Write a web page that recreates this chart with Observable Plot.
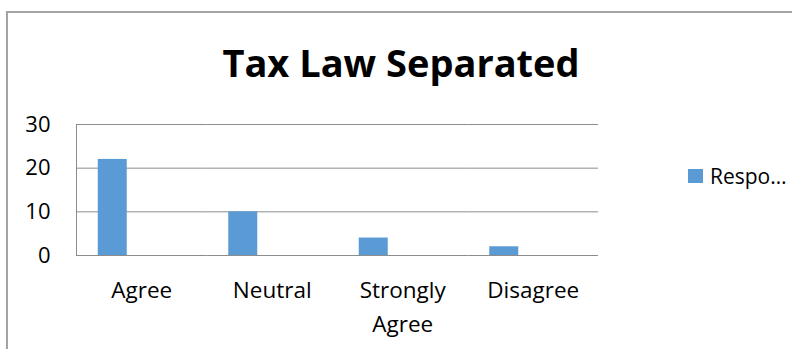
<!DOCTYPE html>
<html>
<head>
<meta charset="utf-8">
<script src="https://cdn.jsdelivr.net/npm/d3@7"></script>
<script src="https://cdn.jsdelivr.net/npm/@observablehq/plot@0.6"></script>
<style>
  html, body { margin: 0; padding: 0; background: #fff; }
  #wrap { position: relative; width: 792px; height: 349px; overflow: hidden; font-family: "Open Sans", sans-serif; }
  #border { position: absolute; left: 6px; top: 11px; width: 800px; height: 400px; border-top: 2px solid #a3a3a3; border-left: 2px solid #a3a3a3; box-sizing: border-box; }
  #chart { position: absolute; left: 0; top: 0; }
  #title { position: absolute; left: 10px; width: 782px; top: 43px; text-align: center; font-size: 38px; line-height: 38px; font-weight: 700; color: #000; }
  #legend { position: absolute; left: 688px; top: 166px; height: 21px; line-height: 21px; font-size: 21px; color: #000; white-space: nowrap; }
  #legend .sw { position: absolute; left: 0; top: 3px; width: 15px; height: 14px; background: #5b9bd5; }
  #legend .lb { position: absolute; left: 22px; top: 0; }
</style>
</head>
<body>
<div id="wrap">
  <div id="border"></div>
  <div id="chart"></div>
  <div id="title"></div>
  <div id="legend"><div class="sw"></div><div class="lb"></div></div>
</div>
<script>
const chartTitle = "Tax Law Separated";
const categories = ["Agree", "Neutral", "Strongly Agree", "Disagree"];
const responses = [22, 10, 4, 2];
const seriesName = "Responses";
const seriesSlots = ["Responses", "Series 2", "Series 3"];
const yTicks = [0, 10, 20, 30];
const legendLabel = "Respo\u2026";

const data = categories.map((c, i) => ({category: c, series: seriesName, value: responses[i]}));

const barColor = "#5b9bd5";
const gridColor = "#8c8c8c";

const plot = Plot.plot({
  width: 792,
  height: 349,
  marginLeft: 76,
  marginRight: 194,
  marginTop: 124,
  marginBottom: 94,
  style: {fontFamily: "'Open Sans', sans-serif", color: "#000", background: "transparent"},
  fx: {domain: categories, padding: 0, round: false, label: null},
  x: {domain: seriesSlots, paddingInner: 0, paddingOuter: 0.75, round: false, axis: null},
  y: {domain: [0, 30], label: null},
  marks: [
    Plot.ruleY(yTicks, {stroke: gridColor, strokeWidth: 1}),
    Plot.barY(data, {fx: "category", x: "series", y: "value", fill: barColor}),
    Plot.frame({anchor: "left", facetAnchor: "left", stroke: gridColor, strokeWidth: 1}),
    Plot.axisY({ticks: yTicks, tickSize: 0, tickPadding: 26, fontSize: 22, label: null, facetAnchor: "left"}),
    Plot.axisFx({anchor: "bottom", tickSize: 0, tickPadding: 19, fontSize: 22.5, lineHeight: 1.5, label: null,
      tickFormat: d => d === "Strongly Agree" ? "Strongly\nAgree" : d})
  ]
});
document.getElementById("chart").appendChild(plot);
document.getElementById("title").textContent = chartTitle;
document.querySelector("#legend .lb").textContent = legendLabel;
</script>
</body>
</html>
